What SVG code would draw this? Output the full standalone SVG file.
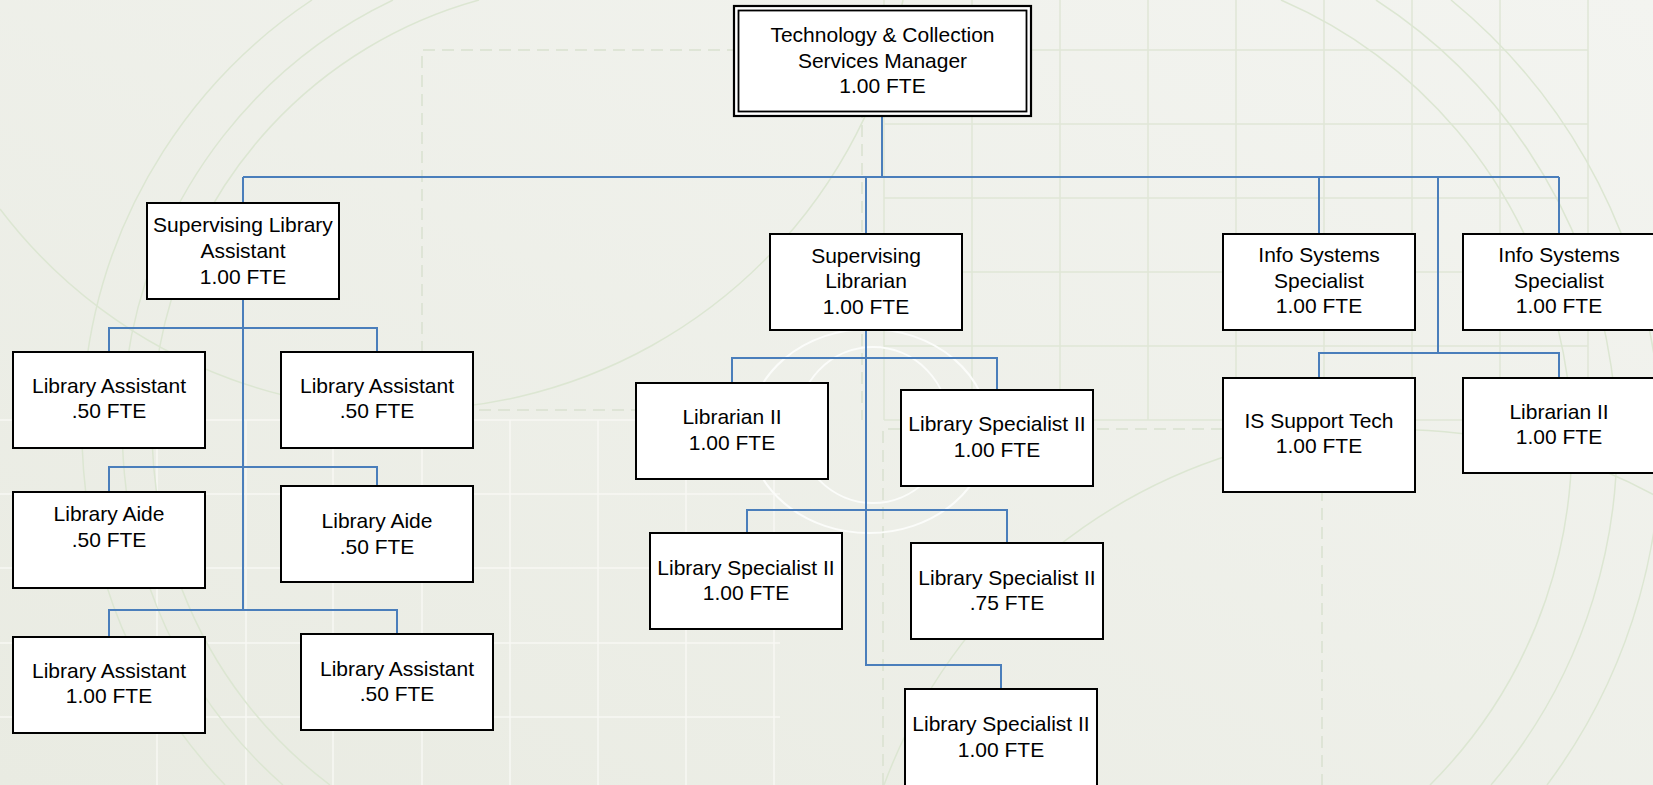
<svg xmlns="http://www.w3.org/2000/svg" width="1653" height="785" viewBox="0 0 1653 785">
  <defs>
    <linearGradient id="bgFill" x1="0" y1="1" x2="1" y2="0">
      <stop offset="0" stop-color="#e9ebe2"/>
      <stop offset="1" stop-color="#f3f4f0"/>
    </linearGradient>
    <style>
      .box { fill: #ffffff; stroke: #000000; stroke-width: 2; }
      .lbl { font-family: "Liberation Sans", Arial, sans-serif; font-size: 21px; fill: #000000; text-anchor: middle; }
      .conn { fill: none; stroke: #4a7ebb; stroke-width: 2; }
      .grid { fill: none; stroke: #dfe6d6; stroke-width: 1.5; }
      .wgrid { fill: none; stroke: #f7f8f4; stroke-width: 1.5; }
      .arc { fill: none; stroke: #dce6d2; stroke-width: 1.5; }
      .dash { fill: none; stroke: #d9e1d0; stroke-width: 1.5; stroke-dasharray: 12 7; }
      .ring { fill: none; stroke: #fbfcfa; stroke-width: 2; }
    </style>
  </defs>

  <!-- slide backdrop -->
  <g id="background">
    <rect x="0" y="0" width="1653" height="785" fill="url(#bgFill)"/>
    <!-- green grid, upper right -->
    <path class="grid" d="M884,0 V420 M972,0 V420 M1060,0 V420 M1148,0 V420 M1236,0 V420 M1324,0 V420 M1412,0 V420 M1500,0 V420 M1588,0 V420"/>
    <path class="grid" d="M884,50 H1588 M884,124 H1588 M884,198 H1588 M884,272 H1588 M884,346 H1588 M884,420 H1588"/>
    <!-- white grid, lower left -->
    <path class="wgrid" d="M0,420 H780 M0,494 H780 M0,568 H780 M0,643 H780 M0,717 H780"/>
    <path class="wgrid" d="M157,420 V785 M246,420 V785 M333,420 V785 M422,420 V785 M510,420 V785 M598,420 V785 M686,420 V785 M774,420 V785"/>
    <!-- concentric arcs -->
    <path class="arc" d="M312,0 A515,515 0 0 0 225,785"/>
    <path class="arc" d="M393,0 A475,475 0 0 0 283,785"/>
    <path class="arc" d="M479,0 A445,445 0 0 0 330,785"/>
    <path class="arc" d="M0,209 A508,508 0 0 0 903,0"/>
    <path class="arc" d="M1281,0 A483,483 0 0 1 1430,785"/>
    <path class="arc" d="M1376,0 A528,528 0 0 1 1491,785"/>
    <path class="arc" d="M1451,0 A572,572 0 0 1 1547,785"/>
    <path class="arc" d="M884,785 A545,545 0 0 1 1906,785"/>
    <!-- dashed guides -->
    <path class="dash" d="M422,410 V50 H884"/>
    <path class="dash" d="M422,410 H640"/>
    <path class="dash" d="M862,30 V420"/>
    <path class="dash" d="M883,785 V429 H1322 V785"/>
    <!-- light rings -->
    <ellipse class="ring" cx="869" cy="431" rx="120" ry="102"/>
    <ellipse class="ring" cx="873" cy="425" rx="76" ry="78"/>
  </g>

  <!-- reporting lines -->
  <g id="connectors">
    <path class="conn" d="M882,116 V177"/>
    <path class="conn" d="M243,177 H1559"/>
    <path class="conn" d="M243,177 V203"/>
    <path class="conn" d="M866,177 V234"/>
    <path class="conn" d="M1319,177 V234"/>
    <path class="conn" d="M1438,177 V353"/>
    <path class="conn" d="M1559,177 V234"/>
    <!-- Supervising Library Assistant branch -->
    <path class="conn" d="M243,299 V610"/>
    <path class="conn" d="M109,352 V328 H377 V352"/>
    <path class="conn" d="M109,492 V467 H377 V486"/>
    <path class="conn" d="M109,637 V610 H397 V634"/>
    <!-- Supervising Librarian branch -->
    <path class="conn" d="M866,330 V665 H1001 V689"/>
    <path class="conn" d="M732,383 V358 H997 V390"/>
    <path class="conn" d="M747,533 V510 H1007 V543"/>
    <!-- Info systems branch -->
    <path class="conn" d="M1319,378 V353 H1559 V378"/>
  </g>

  <g id="manager">
    <rect x="734" y="6" width="297" height="110" fill="#ffffff" stroke="#000" stroke-width="2.2"/>
    <rect x="738.5" y="10.5" width="288" height="101" fill="none" stroke="#000" stroke-width="1.8"/>
    <text class="lbl"><tspan x="882.5" y="41.5">Technology &amp; Collection</tspan><tspan x="882.5" y="67.5">Services Manager</tspan><tspan x="882.5" y="92.5">1.00 FTE</tspan></text>
  </g>

  <g id="sup-lib-assistant">
    <rect class="box" x="147" y="203" width="192" height="96"/>
    <text class="lbl"><tspan x="243" y="232">Supervising Library</tspan><tspan x="243" y="258">Assistant</tspan><tspan x="243" y="284">1.00 FTE</tspan></text>
  </g>

  <g id="lib-assistant-1">
    <rect class="box" x="13" y="352" width="192" height="96"/>
    <text class="lbl"><tspan x="109" y="393">Library Assistant</tspan><tspan x="109" y="418">.50 FTE</tspan></text>
  </g>

  <g id="lib-assistant-2">
    <rect class="box" x="281" y="352" width="192" height="96"/>
    <text class="lbl"><tspan x="377" y="393">Library Assistant</tspan><tspan x="377" y="418">.50 FTE</tspan></text>
  </g>

  <g id="lib-aide-1">
    <rect class="box" x="13" y="492" width="192" height="96"/>
    <text class="lbl"><tspan x="109" y="521">Library Aide</tspan><tspan x="109" y="546.5">.50 FTE</tspan></text>
  </g>

  <g id="lib-aide-2">
    <rect class="box" x="281" y="486" width="192" height="96"/>
    <text class="lbl"><tspan x="377" y="528">Library Aide</tspan><tspan x="377" y="554">.50 FTE</tspan></text>
  </g>

  <g id="lib-assistant-3">
    <rect class="box" x="13" y="637" width="192" height="96"/>
    <text class="lbl"><tspan x="109" y="678">Library Assistant</tspan><tspan x="109" y="702.5">1.00 FTE</tspan></text>
  </g>

  <g id="lib-assistant-4">
    <rect class="box" x="301" y="634" width="192" height="96"/>
    <text class="lbl"><tspan x="397" y="676">Library Assistant</tspan><tspan x="397" y="700.5">.50 FTE</tspan></text>
  </g>

  <g id="sup-librarian">
    <rect class="box" x="770" y="234" width="192" height="96"/>
    <text class="lbl"><tspan x="866" y="263">Supervising</tspan><tspan x="866" y="288">Librarian</tspan><tspan x="866" y="314">1.00 FTE</tspan></text>
  </g>

  <g id="librarian-ii-a">
    <rect class="box" x="636" y="383" width="192" height="96"/>
    <text class="lbl"><tspan x="732" y="424">Librarian II</tspan><tspan x="732" y="450">1.00 FTE</tspan></text>
  </g>

  <g id="lib-specialist-a">
    <rect class="box" x="901" y="390" width="192" height="96"/>
    <text class="lbl"><tspan x="997" y="430.5">Library Specialist II</tspan><tspan x="997" y="456.5">1.00 FTE</tspan></text>
  </g>

  <g id="lib-specialist-b">
    <rect class="box" x="650" y="533" width="192" height="96"/>
    <text class="lbl"><tspan x="746" y="575">Library Specialist II</tspan><tspan x="746" y="600">1.00 FTE</tspan></text>
  </g>

  <g id="lib-specialist-c">
    <rect class="box" x="911" y="543" width="192" height="96"/>
    <text class="lbl"><tspan x="1007" y="585">Library Specialist II</tspan><tspan x="1007" y="610">.75 FTE</tspan></text>
  </g>

  <g id="lib-specialist-d">
    <rect class="box" x="905" y="689" width="192" height="98"/>
    <text class="lbl"><tspan x="1001" y="730.5">Library Specialist II</tspan><tspan x="1001" y="756.5">1.00 FTE</tspan></text>
  </g>

  <g id="info-systems-1">
    <rect class="box" x="1223" y="234" width="192" height="96"/>
    <text class="lbl"><tspan x="1319" y="262">Info Systems</tspan><tspan x="1319" y="287.5">Specialist</tspan><tspan x="1319" y="313">1.00 FTE</tspan></text>
  </g>

  <g id="info-systems-2">
    <rect class="box" x="1463" y="234" width="192" height="96"/>
    <text class="lbl"><tspan x="1559" y="262">Info Systems</tspan><tspan x="1559" y="287.5">Specialist</tspan><tspan x="1559" y="313">1.00 FTE</tspan></text>
  </g>

  <g id="is-support-tech">
    <rect class="box" x="1223" y="378" width="192" height="114"/>
    <text class="lbl"><tspan x="1319" y="428">IS Support Tech</tspan><tspan x="1319" y="453">1.00 FTE</tspan></text>
  </g>

  <g id="librarian-ii-b">
    <rect class="box" x="1463" y="378" width="192" height="95"/>
    <text class="lbl"><tspan x="1559" y="419">Librarian II</tspan><tspan x="1559" y="444">1.00 FTE</tspan></text>
  </g>
</svg>
